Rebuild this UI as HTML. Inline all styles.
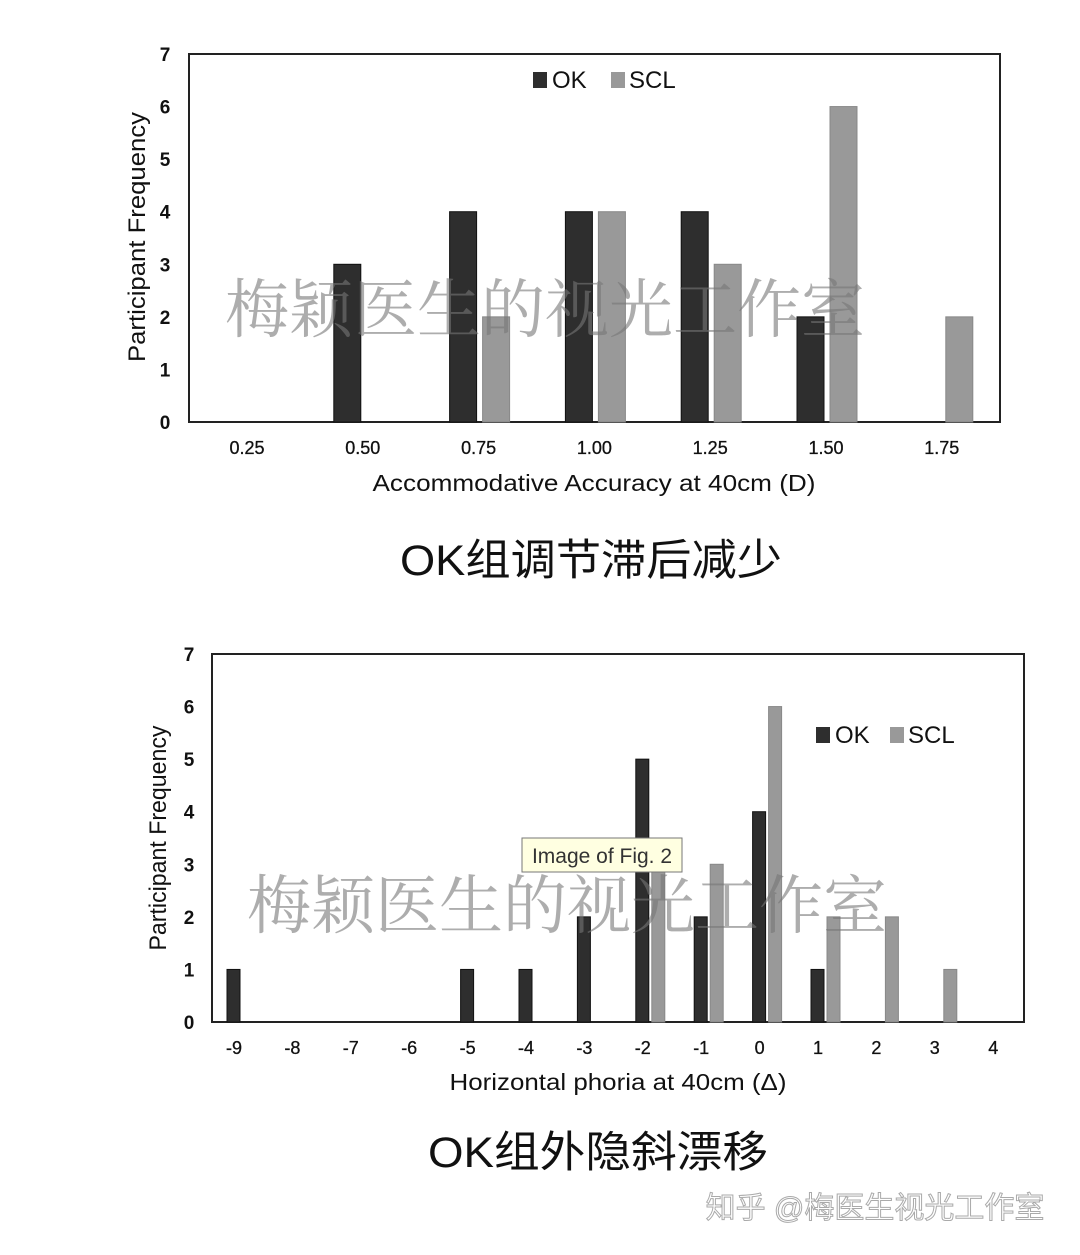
<!DOCTYPE html>
<html><head><meta charset="utf-8"><style>
body{margin:0;background:#fff;}
svg text{font-family:"Liberation Sans",Arial,sans-serif;}
.cjk{font-family:"Liberation Sans","Noto Sans CJK SC",sans-serif;}
.wm{font-family:"Noto Serif CJK SC","Liberation Serif",serif;}
</style></head><body>
<svg id="root" width="1080" height="1250" xmlns="http://www.w3.org/2000/svg">
<rect width="1080" height="1250" fill="#fff"/>
<g id="c1"></g>
<g id="c2"></g>
<text x="591" y="575" text-anchor="middle" font-size="43" fill="#111" class="cjk" textLength="382" lengthAdjust="spacingAndGlyphs">OK组调节滞后减少</text>
<text x="598" y="1167" text-anchor="middle" font-size="43" fill="#111" class="cjk" textLength="340" lengthAdjust="spacingAndGlyphs">OK组外隐斜漂移</text>
<text x="545" y="332" text-anchor="middle" font-size="64" fill="#777" fill-opacity="0.6" class="wm">梅颖医生的视光工作室</text>
<text x="567" y="928" text-anchor="middle" font-size="64" fill="#777" fill-opacity="0.6" class="wm">梅颖医生的视光工作室</text>
<text x="875" y="1218" text-anchor="middle" font-size="30" fill="#fff" stroke="#aaa" stroke-width="1" class="cjk">知乎 @梅医生视光工作室</text>
<g>
<rect x="522" y="838" width="160" height="34" fill="#ffffe1" stroke="#777" stroke-width="1"/>
<text x="602" y="863" text-anchor="middle" font-size="21" fill="#333">Image of Fig. 2</text>
</g>
</svg>
<script>
const cats1=["0.25","0.50","0.75","1.00","1.25","1.50","1.75"];
const ok1=[0,3,4,4,4,2,0];
const scl1=[0,0,2,4,3,6,2];
const cats2=["-9","-8","-7","-6","-5","-4","-3","-2","-1","0","1","2","3","4"];
const ok2=[1,0,0,0,1,1,2,5,2,4,1,0,0,0];
const scl2=[0,0,0,0,0,0,0,3,3,6,2,2,1,0];
const yTicks=[0,1,2,3,4,5,6,7];
const NS="http://www.w3.org/2000/svg";
function mk(p,t,a){const e=document.createElementNS(NS,t);for(const k in a)e.setAttribute(k,a[k]);p.appendChild(e);return e;}
function chart(g,cfg,cats,ok,scl){
  const {L,R,T,B,x0,dx,okOff,sclOff,bw,ylx,xly,xtitle,ttx,tty,ttl,ytx,yty,ytl,lgx,lgy,lgap}=cfg;
  const y=v=>B-(B-T)*v/7;
  const x=i=>x0+i*dx;
  const box=mk(g,'rect',{x:L,y:T,width:R-L,height:B-T,fill:'none',stroke:'#222','stroke-width':2});
  
  
  yTicks.forEach(v=>{const t=mk(g,'text',{x:ylx,y:y(v)+7,'text-anchor':'middle','font-size':19,'font-weight':'bold',fill:'#111'});t.textContent=v;
    
    });
  cats.forEach((c,i)=>{const t=mk(g,'text',{x:x(i),y:xly,'text-anchor':'middle','font-size':18,fill:'#111','stroke':'#111','stroke-width':0.3});t.textContent=c;
    
    
    if(ok[i]>0){const b=mk(g,'rect',{x:x(i)+okOff,y:y(ok[i]),width:bw,height:B-y(ok[i]),fill:'#2e2e2e',stroke:'#111','stroke-width':1});
      
      }
    if(scl[i]>0){const b=mk(g,'rect',{x:x(i)+sclOff,y:y(scl[i]),width:bw,height:B-y(scl[i]),fill:'#999',stroke:'#888','stroke-width':1});
      
      }
  });
  const xt=mk(g,'text',{x:ttx,y:tty,'text-anchor':'middle','font-size':23,fill:'#111',textLength:ttl,lengthAdjust:'spacingAndGlyphs'});xt.textContent=xtitle;
  
  
  const yt=mk(g,'text',{x:ytx,y:yty,'text-anchor':'middle','font-size':24,fill:'#111',textLength:ytl,lengthAdjust:'spacingAndGlyphs',transform:`rotate(-90 ${ytx} ${yty})`});yt.textContent='Participant Frequency';
  
  
  const lg=mk(g,'g',{});
  
  
  mk(lg,'rect',{x:lgx,y:lgy,width:14,height:16,fill:'#2e2e2e'});
  const a=mk(lg,'text',{x:lgx+19,y:lgy+16,'font-size':24,fill:'#111'});a.textContent='OK';
  mk(lg,'rect',{x:lgx+lgap,y:lgy,width:14,height:16,fill:'#999'});
  const b=mk(lg,'text',{x:lgx+lgap+18,y:lgy+16,'font-size':24,fill:'#111'});b.textContent='SCL';
}
chart(document.getElementById('c1'),{L:189,R:1000,T:54,B:422,x0:247,dx:115.8,okOff:-29,sclOff:4,bw:27,ylx:165,xly:454,
  xtitle:'Accommodative Accuracy at 40cm (D)',ttx:594,tty:491,ttl:443,ytx:145,yty:237,ytl:250,lgx:533,lgy:72,lgap:78},cats1,ok1,scl1);
chart(document.getElementById('c2'),{L:212,R:1024,T:654,B:1022,x0:234,dx:58.4,okOff:-7,sclOff:9,bw:13,ylx:189,xly:1054,
  xtitle:'Horizontal phoria at 40cm (\u0394)',ttx:618,tty:1090,ttl:337,ytx:166,yty:838,ytl:225,lgx:816,lgy:727,lgap:74},cats2,ok2,scl2);
</script>
</body></html>
